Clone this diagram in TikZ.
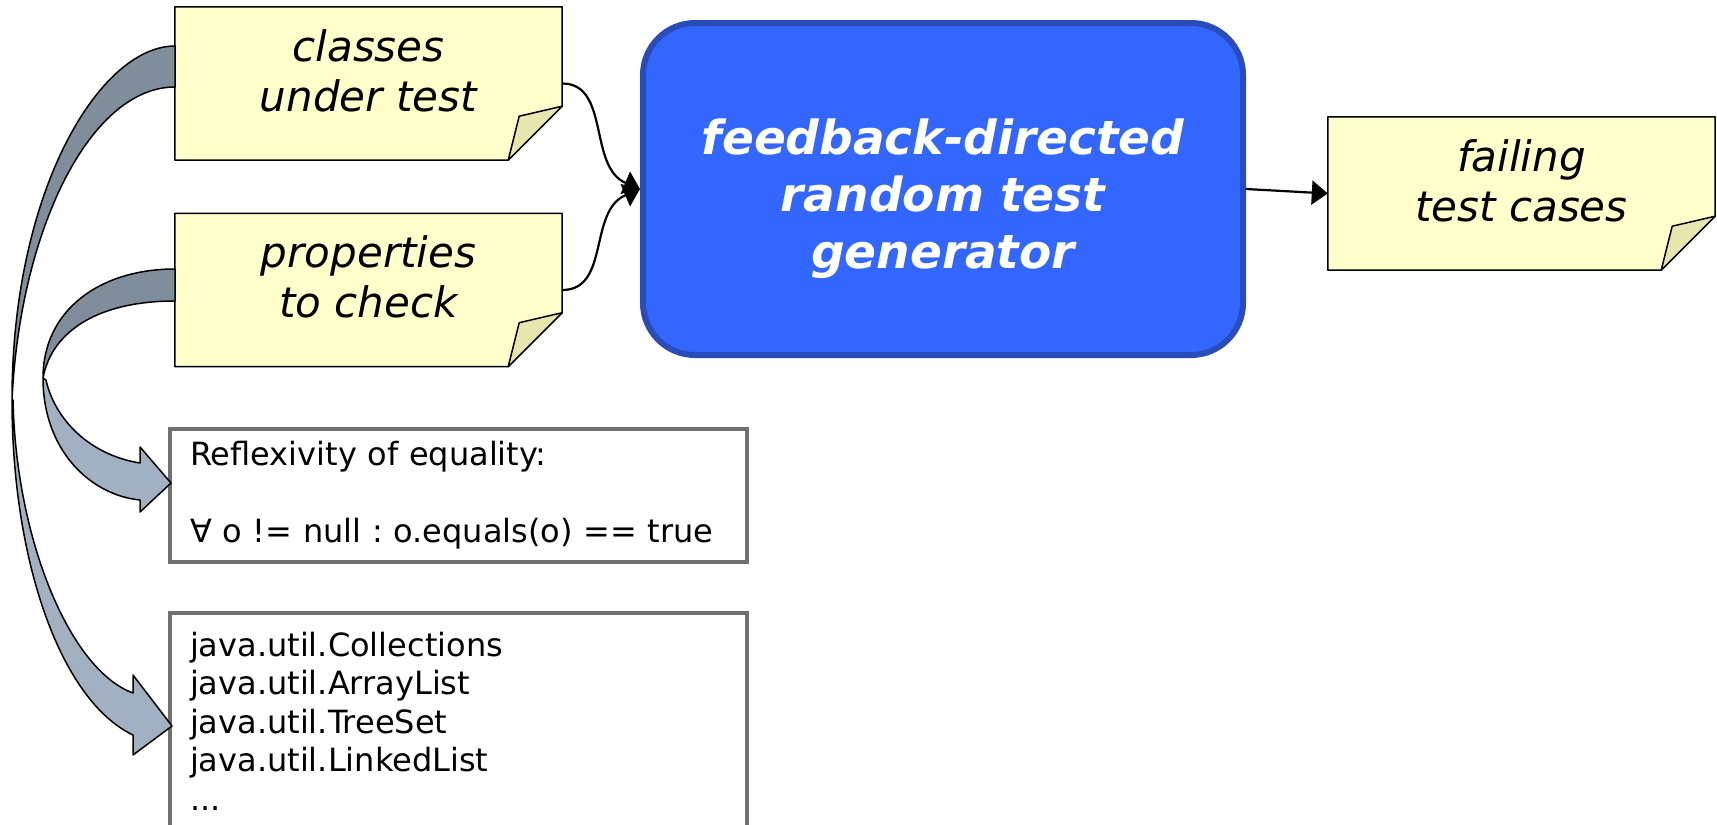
\documentclass[tikz,border=0pt]{standalone}
\usepackage{fontspec}
\setmainfont{DejaVu Sans}
\usetikzlibrary{arrows.meta,backgrounds}

\definecolor{notefill}{HTML}{FFFFCC}
\definecolor{notefold}{HTML}{E6E6AE}
\definecolor{genfill}{HTML}{3366FF}
\definecolor{genline}{HTML}{2A4BBA}
\definecolor{boxline}{HTML}{717171}
\definecolor{ribbondark}{HTML}{808D9A}
\definecolor{ribbonlight}{HTML}{A2B1C2}

\begin{document}
\frenchspacing
\begin{tikzpicture}
[x=1pt,y=-1pt]
\tikzset{note/.style={minimum width=387pt, minimum height=153pt, inner sep=0pt, align=center, text depth=26pt, font=\fontsize{42}{50}\selectfont\itshape}}
\tikzset{listbox/.style={draw=boxline, line width=4pt, fill=white, inner xsep=20pt, minimum width=577pt, text width=537pt, align=left, font=\fontsize{32}{38.5}\selectfont}}
\tikzset{flow/.style={line width=2.2pt, -{Triangle[length=16pt,width=24pt]}}}
\tikzset{ribbon/.style={draw=black, line width=1.5pt, line join=round}}

\useasboundingbox (0,0) rectangle (1717,825);

\node [note] (cut) at (368.5,83.5) {classes\\under test};
\node [note] (props) at (368.5,290) {properties\\to check};
\node [note] (fail) at (1521.5,193.5) {failing\\test cases};
\node [draw=genline, line width=6pt, fill=genfill, rounded corners=52pt, minimum width=600pt, minimum height=332pt, text=white, align=center, text depth=0pt, font=\fontsize{47}{57}\selectfont\bfseries\itshape] (gen) at (943,189) {\rule{0pt}{45pt}feedback-directed\\random test\\generator};
\node [listbox, minimum height=133pt] (refl) at (458.5,495.5) {Reflexivity of equality:\\[38.5pt]∀ o != null : o.equals(o) == true};
\node [listbox, minimum height=216pt] (jlist) at (458.5,721) {java.util.Collections\\java.util.ArrayList\\java.util.TreeSet\\java.util.LinkedList\\...};

% sticky notes with a folded corner
\begin{scope}[on background layer]
\foreach \n in {cut,props,fail} {
	\filldraw [fill=notefill, line width=1.5pt, line join=round] (\n.north west) -- (\n.north east) -- ([yshift=54pt]\n.south east) -- ([xshift=-54pt]\n.south east) -- (\n.south west) -- cycle;
	\filldraw [fill=notefold, line width=1.5pt, line join=round] ([yshift=54pt]\n.south east) -- ([xshift=-43pt,yshift=44pt]\n.south east) -- ([xshift=-54pt]\n.south east) -- cycle;
}
\end{scope}

% curved block arrows
\filldraw [ribbon, fill=ribbondark] (175,46) .. controls (100,46) and (12,190) .. (12,400) .. controls (20,230) and (90,87) .. (175,87) -- cycle;
\filldraw [ribbon, fill=ribbonlight] (12,400) .. controls (12,560) and (60,700) .. (133,735) -- (133,755) -- (172,726) -- (133,675) -- (133,693) .. controls (70,670) and (16,540) .. (13,400) -- cycle;
\filldraw [ribbon, fill=ribbondark] (175,269) .. controls (100,269) and (43,310) .. (43,378) .. controls (52,330) and (100,301) .. (175,301) -- cycle;
\filldraw [ribbon, fill=ribbonlight] (43,378) .. controls (43,450) and (90,495) .. (140,500) -- (140,512) -- (171,483) -- (140,447) -- (140,463) .. controls (90,455) and (55,420) .. (46,380) -- cycle;

\draw [flow] (cut.east) .. controls +(48,0) and +(-52,-22) .. (gen.west);
\draw [flow] (props.east) .. controls +(48,0) and +(-52,22) .. (gen.west);
\draw [flow] (gen.east) -- (fail.west);
\end{tikzpicture}
\end{document}
